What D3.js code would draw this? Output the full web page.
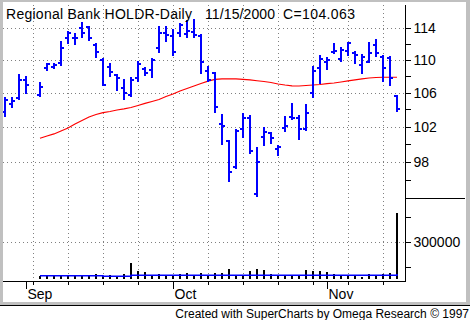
<!DOCTYPE html>
<html>
<head>
<meta charset="utf-8">
<script src="https://cdn.jsdelivr.net/npm/d3@7"></script>
<style>
    body { margin: 0; background: #fff; }
    svg { display: block; font-family: "Liberation Sans", Arial, sans-serif; }
</style>
</head>
<body>
<svg id="chart" width="470" height="320"></svg>
<script>
// Trading days (Labor Day 9/4 has no bar but keeps its slot)
var dates = ["2000-08-29", "2000-08-30", "2000-08-31", "2000-09-01", "2000-09-05", "2000-09-06", "2000-09-07", "2000-09-08",
    "2000-09-11", "2000-09-12", "2000-09-13", "2000-09-14", "2000-09-15", "2000-09-18", "2000-09-19", "2000-09-20",
    "2000-09-21", "2000-09-22", "2000-09-25", "2000-09-26", "2000-09-27", "2000-09-28", "2000-09-29", "2000-10-02",
    "2000-10-03", "2000-10-04", "2000-10-05", "2000-10-06", "2000-10-09", "2000-10-10", "2000-10-11", "2000-10-12",
    "2000-10-13", "2000-10-16", "2000-10-17", "2000-10-18", "2000-10-19", "2000-10-20", "2000-10-23", "2000-10-24",
    "2000-10-25", "2000-10-26", "2000-10-27", "2000-10-30", "2000-10-31", "2000-11-01", "2000-11-02", "2000-11-03",
    "2000-11-06", "2000-11-07", "2000-11-08", "2000-11-09", "2000-11-10", "2000-11-13", "2000-11-14", "2000-11-15"];

var opens = [103.69, 104.63, 105.34, 107.51, 105.70, 108.99, 109.11, 109.61, 112.76, 112.76, 114.04, 114.17, 111.86, 109.98,
    109.11, 108.12, 106.54, 105.70, 107.76, 108.86, 108.74, 111.48, 113.40, 113.02, 113.40, 113.27, 113.52, 113.02,
    108.62, 108.37, 102.29, 100.33, 97.41, 101.71, 102.98, 94.48, 100.79, 101.24, 99.42, 101.82, 103.10, 102.98,
    101.71, 105.94, 108.99, 109.73, 110.98, 110.10, 111.10, 110.85, 109.36, 109.73, 111.86, 110.35, 110.23, 105.58];
var highs = [105.46, 105.46, 108.25, 108.00, 107.27, 109.61, 109.61, 112.37, 113.65, 113.40, 114.81, 114.30, 112.12, 110.23,
    109.61, 108.25, 107.63, 107.88, 109.86, 109.11, 110.23, 114.30, 114.30, 113.91, 114.68, 115.07, 115.20, 113.27,
    109.23, 108.49, 103.45, 100.44, 101.71, 103.57, 103.34, 99.65, 101.94, 101.36, 99.88, 103.22, 104.75, 103.34,
    104.63, 109.23, 110.60, 110.35, 112.12, 111.61, 112.25, 111.10, 110.73, 112.25, 112.63, 110.60, 110.48, 105.70];
var lows = [103.10, 104.16, 105.10, 105.82, 105.46, 108.62, 108.86, 109.23, 111.99, 111.86, 112.76, 112.37, 110.23, 106.78,
    107.88, 106.18, 105.10, 105.46, 107.27, 108.00, 107.76, 110.85, 112.25, 110.48, 112.89, 112.76, 112.76, 108.25,
    107.27, 103.57, 99.88, 95.77, 97.19, 100.67, 98.86, 94.16, 99.76, 99.99, 98.64, 101.36, 102.75, 100.44,
    101.47, 105.34, 107.02, 108.74, 110.73, 109.73, 110.48, 109.48, 108.25, 109.61, 110.35, 107.27, 106.78, 103.69];
var closes = [105.10, 104.98, 107.51, 106.90, 106.66, 109.48, 109.36, 111.48, 113.40, 112.76, 113.40, 112.76, 110.98, 106.90,
    108.49, 107.76, 105.94, 107.51, 109.48, 108.37, 109.98, 113.40, 113.14, 110.98, 114.43, 113.65, 113.14, 109.73,
    107.51, 104.28, 102.06, 96.86, 101.47, 102.98, 99.20, 97.97, 101.36, 100.67, 99.65, 102.06, 102.98, 101.71,
    103.57, 108.62, 110.10, 109.98, 111.10, 111.23, 112.12, 110.60, 110.35, 110.85, 110.85, 108.99, 107.76, 104.063];

// price moving average (red), starts 9/5
var priceAvg = [null, null, null, null, 100.67, 100.93, 101.16, 101.50, 101.85, 102.31, 102.71, 103.12, 103.41, 103.62,
    103.76, 103.94, 104.06, 104.23, 104.47, 104.71, 104.94, 105.18, 105.54, 105.84, 106.20, 106.50, 106.80, 107.10,
    107.38, 107.59, 107.65, 107.65, 107.65, 107.61, 107.53, 107.43, 107.34, 107.22, 107.04, 106.92, 106.82, 106.80,
    106.86, 106.92, 106.98, 107.08, 107.16, 107.28, 107.41, 107.53, 107.65, 107.77, 107.83, 107.86, 107.86, 107.86];

var volumes = [null, null, null, null, 96000, 96000, 96000, 96000, 96000, 96000, 96000, 96000, 106000, 96000,
    100000, 90000, 106000, 170000, 124000, 118000, 96000, 106000, 96000, 96000, 106000, 112000, 96000, 112000,
    96000, 112000, 112000, 136000, 96000, 96000, 124000, 136000, 130000, 106000, 96000, 96000, 96000, 96000,
    130000, 124000, 124000, 118000, 106000, 96000, 96000, 96000, 88000, 106000, 96000, 106000, 112000, 470000];
var volumeAvg = [null, null, null, null, 96000, 96000, 96000, 96000, 96000, 96000, 96000, 96000, 96000, 92000,
    92000, 92000, 92000, 98000, 98000, 98000, 98000, 98000, 98000, 98000, 98000, 98000, 98000, 98000,
    98000, 98000, 98000, 98000, 98000, 98000, 98000, 98000, 98000, 98000, 98000, 98000, 98000, 98000,
    98000, 98000, 98000, 98000, 98000, 98000, 98000, 98000, 98000, 98000, 98000, 98000, 98000, 106000];

var priceTicks = [98, 102, 106, 110, 114];
var priceMinor = [96, 100, 104, 108, 112];
var volumeTicks = [300000];
var volumeMinor = [150000, 450000];
var monthNames = ["Sep", "Oct", "Nov"];

var titleParts = ["Regional Bank HOLDR-Daily", "11/15/2000", "C=104.063"];
var credit = "Created with SuperCharts by Omega Research \u00a9 1997";

var svg = d3.select("#chart");
var parse = d3.timeParse("%Y-%m-%d");
var start = parse(dates[0]);
var end = parse(dates[dates.length - 1]);

// weekday slot counted from the first date
function slot(d) {
    return d3.timeDay.range(start, d).filter(function (t) {
        var w = t.getDay();
        return w !== 0 && w !== 6;
    }).length;
}

var data = dates.map(function (s, i) {
    var d = parse(s);
    return {
        date: d, slot: slot(d), o: opens[i], h: highs[i], l: lows[i], c: closes[i],
        ma: priceAvg[i], v: volumes[i], va: volumeAvg[i]
    };
});

var axisX = 405,
    axisBottom = 281,
    volBase = 279;

var xScale = d3.scaleLinear().domain([0, slot(end)]).range([5, 397]);
var yScale = d3.scaleLog().domain([98, 114]).range([162, 28.3]);
var vScale = d3.scaleLinear().domain([0, 450000]).range([291.7, 216.7]);

// background
svg.append("rect").attr("width", 470).attr("height", 320).attr("fill", "#fff");

// grid
var grid = svg.append("g").attr("stroke", "#808080").attr("stroke-dasharray", "1,3")
    .attr("shape-rendering", "crispEdges");

var mondays = d3.timeMonday.range(start, d3.timeDay.offset(end, 1));
grid.selectAll(".gx").data(mondays).enter().append("line")
    .attr("x1", function (d) { return xScale(slot(d)) + 0.5; })
    .attr("x2", function (d) { return xScale(slot(d)) + 0.5; })
    .attr("y1", 5).attr("y2", axisBottom);

grid.selectAll(".gy").data(priceTicks).enter().append("line")
    .attr("x1", 3).attr("x2", axisX)
    .attr("y1", function (d) { return Math.round(yScale(d)) + 0.5; })
    .attr("y2", function (d) { return Math.round(yScale(d)) + 0.5; });

grid.selectAll(".gv").data(volumeTicks).enter().append("line")
    .attr("x1", 3).attr("x2", axisX)
    .attr("y1", function (d) { return Math.round(vScale(d)) + 0.5; })
    .attr("y2", function (d) { return Math.round(vScale(d)) + 0.5; });

// price moving average
var maLine = d3.line()
    .defined(function (d) { return d.ma != null; })
    .x(function (d) { return xScale(d.slot); })
    .y(function (d) { return yScale(d.ma); });

svg.append("path").datum(data).attr("d", maLine)
    .attr("fill", "none").attr("stroke", "#ff0000").attr("stroke-width", 1.2);

// OHLC bars
var bars = svg.append("g").attr("fill", "#0000ff").attr("shape-rendering", "crispEdges");
var bar = bars.selectAll("g").data(data).enter().append("g");

bar.append("rect")
    .attr("x", function (d) { return xScale(d.slot) - 1; })
    .attr("width", 2)
    .attr("y", function (d) { return yScale(d.h); })
    .attr("height", function (d) { return yScale(d.l) - yScale(d.h); });
bar.append("rect")
    .attr("x", function (d) { return xScale(d.slot) - 3; })
    .attr("width", 2).attr("height", 2)
    .attr("y", function (d) { return yScale(d.o) - 1; });
bar.append("rect")
    .attr("x", function (d) { return xScale(d.slot) + 1; })
    .attr("width", 2).attr("height", 2)
    .attr("y", function (d) { return yScale(d.c) - 1; });

// volume
var volData = data.filter(function (d) { return d.v != null; });
svg.append("g").attr("fill", "#000").attr("shape-rendering", "crispEdges")
    .selectAll("rect").data(volData).enter().append("rect")
    .attr("x", function (d) { return xScale(d.slot) - 1; })
    .attr("width", 2)
    .attr("y", function (d) { return vScale(d.v); })
    .attr("height", function (d) { return volBase - vScale(d.v); });

var vaLine = d3.line()
    .defined(function (d) { return d.va != null; })
    .x(function (d) { return xScale(d.slot); })
    .y(function (d) { return vScale(d.va); })
    .curve(d3.curveStepAfter);

svg.append("path").datum(volData).attr("d", vaLine)
    .attr("fill", "none").attr("stroke", "#0000ff").attr("stroke-width", 1.5);

// axis lines
var axes = svg.append("g").attr("stroke", "#000").attr("shape-rendering", "crispEdges");
axes.append("line").attr("x1", axisX + 0.5).attr("x2", axisX + 0.5).attr("y1", 5).attr("y2", axisBottom + 1);
axes.append("line").attr("x1", 3).attr("x2", axisX + 1).attr("y1", axisBottom + 0.5).attr("y2", axisBottom + 0.5);
axes.append("line").attr("x1", axisX).attr("x2", 465).attr("y1", 198.5).attr("y2", 198.5);

// right axes
function rightAxis(scale, values, labels) {
    var ax = d3.axisRight(scale).tickValues(values).tickSize(5).tickPadding(3)
        .tickFormat(labels ? d3.format("d") : "");
    var g = svg.append("g").attr("transform", "translate(" + (axisX + 0.5) + ",0)").call(ax);
    g.select(".domain").remove();
    g.selectAll("line").attr("shape-rendering", "crispEdges");
    g.selectAll("text").attr("font-size", 14).attr("font-family", "'Liberation Sans', Arial, sans-serif")
        .attr("fill", "#000");
    g.attr("font-size", null);
}
rightAxis(yScale, priceTicks, true);
rightAxis(yScale, priceMinor, false);
rightAxis(vScale, volumeTicks, true);
rightAxis(vScale, volumeMinor, false);

// date axis: short ticks on mondays, long ticks on the first bar of each month
var monthStarts = data.filter(function (d, i) {
    return i > 0 && d.date.getMonth() !== data[i - 1].date.getMonth();
});

axes.selectAll(".wk").data(mondays).enter().append("line")
    .attr("x1", function (d) { return xScale(slot(d)) + 0.5; })
    .attr("x2", function (d) { return xScale(slot(d)) + 0.5; })
    .attr("y1", axisBottom).attr("y2", axisBottom + 4);

axes.selectAll(".mo").data(monthStarts).enter().append("line")
    .attr("x1", function (d) { return xScale(d.slot) + 0.5; })
    .attr("x2", function (d) { return xScale(d.slot) + 0.5; })
    .attr("y1", axisBottom).attr("y2", axisBottom + 8);

svg.selectAll(".mlabel").data(monthStarts).enter().append("text")
    .attr("x", function (d) { return xScale(d.slot) + 1.5; })
    .attr("y", 298.5)
    .attr("font-size", 14)
    .text(function (d, i) { return monthNames[i]; });

// title
var titleX = [6, 205, 283],
    titleW = [186, 70, 72];
svg.selectAll(".title").data(titleParts).enter().append("text")
    .attr("x", function (d, i) { return titleX[i]; })
    .attr("y", 18.5)
    .attr("font-size", 14)
    .attr("textLength", function (d, i) { return titleW[i]; })
    .attr("lengthAdjust", "spacing")
    .text(function (d) { return d; });

// window frame
var frame = svg.append("g").attr("fill", "#c0c0c0").attr("shape-rendering", "crispEdges");
frame.append("rect").attr("x", 0).attr("y", 0).attr("width", 470).attr("height", 2);
frame.append("rect").attr("x", 0).attr("y", 0).attr("width", 3).attr("height", 305);
frame.append("rect").attr("x", 466).attr("y", 0).attr("width", 4).attr("height", 305);
frame.append("rect").attr("x", 0).attr("y", 302).attr("width", 470).attr("height", 3);
svg.append("rect").attr("x", 0).attr("y", 305).attr("width", 470).attr("height", 1).attr("fill", "#000");

svg.append("text")
    .attr("x", 469).attr("y", 317.5)
    .attr("text-anchor", "end")
    .attr("font-size", 12)
    .text(credit);
</script>
</body>
</html>
